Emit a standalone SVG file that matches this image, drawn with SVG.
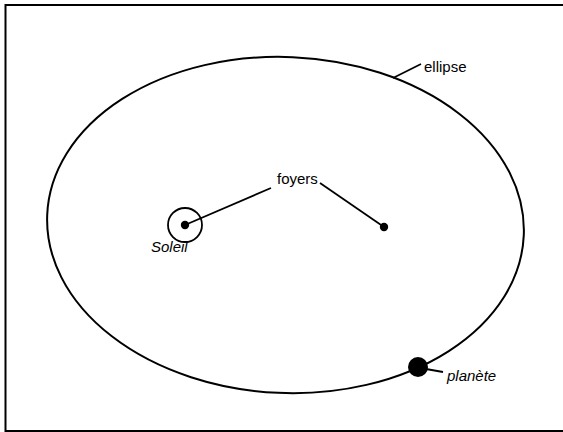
<svg xmlns="http://www.w3.org/2000/svg" width="563" height="432" viewBox="0 0 563 432">
<style>
.ln{fill:none;stroke:#000;stroke-width:2}
.lead{fill:none;stroke:#000;stroke-width:1.8}
.t{font-family:"Liberation Sans",Arial,sans-serif;font-size:15px;fill:#000}
.it{font-style:italic}
</style>
<rect width="563" height="432" fill="#fff"/>
<path class="ln" d="M570,5 H5.5 V431 H570" stroke-width="2.2"/>
<g id="ellipse">
<ellipse class="ln" cx="285.5" cy="225" rx="238.5" ry="168" transform="rotate(2.5 285.5 225)" stroke-width="2.4"/>
</g>
<g id="sun">
<circle cx="185" cy="225" r="17" fill="none" stroke="#000" stroke-width="1.8"/>
<circle cx="185" cy="225" r="4.2" fill="#000"/>
</g>
<g id="focus2">
<circle cx="384" cy="227" r="4.2" fill="#000"/>
</g>
<g id="planet">
<circle cx="418" cy="367" r="10" fill="#000"/>
</g>
<g id="connectors">
<line class="lead" x1="271" y1="188" x2="185" y2="225"/>
<line class="lead" x1="320" y1="183" x2="384" y2="227"/>
<line class="lead" x1="421" y1="64" x2="393" y2="78"/>
<line class="lead" x1="426" y1="369" x2="443" y2="372"/>
</g>
<g id="labels">
<text class="t" x="277" y="184">foyers</text>
<text class="t it" x="151" y="252">Soleil</text>
<text class="t" x="424" y="72">ellipse</text>
<text class="t it" x="447" y="381">planète</text>
</g>
</svg>
